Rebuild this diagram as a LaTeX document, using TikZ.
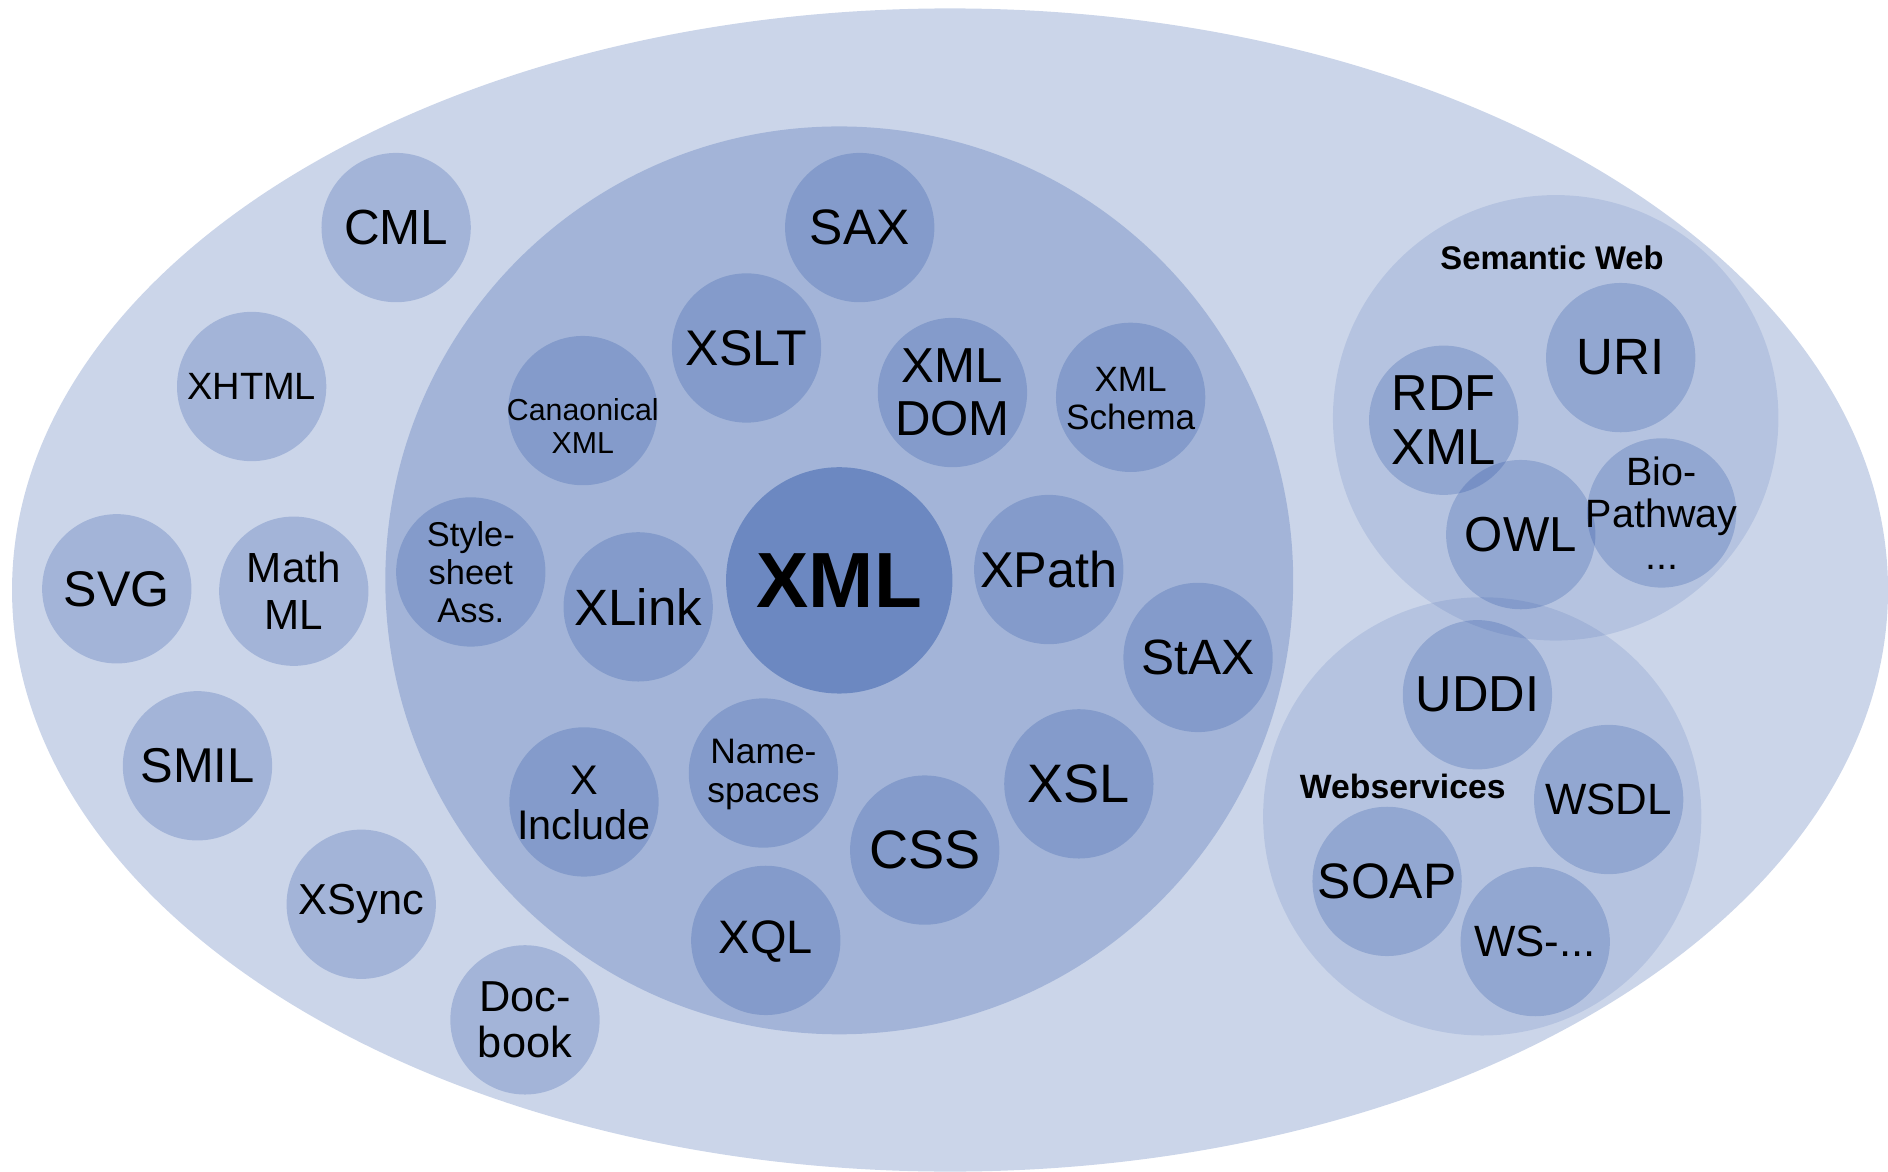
\documentclass[tikz,border=0pt]{standalone}
\usepackage{fontspec}
\setmainfont{Liberation Sans}
\definecolor{base}{RGB}{29,72,159}
\tikzset{
  layer/.style={fill=base, fill opacity=0.23},
  core/.style={fill=base, fill opacity=0.41},
  grp/.style={fill=base, fill opacity=0.12},
  txt/.style={align=center, inner sep=0pt, text=black, text opacity=1},
}
\newcommand{\fs}[2]{\fontsize{#1}{#2}\selectfont}
\begin{document}
\begin{tikzpicture}[x=0.5pt, y=-0.5pt]
\useasboundingbox (0,0) rectangle (1568,973);
% outer ellipse and inner circle
\fill[layer] (789,490) ellipse [x radius=389.5pt, y radius=241.5pt];
\fill[layer] (697,482) circle (188.5pt);
% group circles
\fill[grp] (1292,347) circle (92.5pt);
\fill[grp] (1231,678) circle (91pt);

% bubbles
\foreach \p in {(329,189),(209,321),(97,489),(244,491),(164,636),(300,751),(436,847),
  (714,189),(620,289),(484,341),(791,326),(939,330),(391,475),(530,504),(871,473),
  (995,546),(896,651),(485,666),(634,642),(768,706),(636,781),
  (1346,297),(1199,349),(1263,444),(1380,426),
  (1227,577),(1336,664),(1152,732),(1275,782)}
  \fill[layer] \p circle (31pt);
\fill[core] (697,482) circle (47pt);

% labels outer
\node[txt, font=\fs{20.5}{24}] (cml) at (329,189) {CML};
\node[txt, font=\fs{15.8}{19}] (xhtml) at (209,321) {XHTML};
\node[txt, font=\fs{20.8}{24}] (svg) at (97,489) {SVG};
\node[txt, font=\fs{17.5}{19.5}] (mathml) at (244,491) {Math\\ML};
\node[txt, font=\fs{20.3}{24}] (smil) at (164,636) {SMIL};
\node[txt, font=\fs{18}{20}] (xsync) at (300,751) {XSync};
\node[txt, font=\fs{18}{19}] (docbook) at (436,847) {Doc-\\book};

% labels inner
\node[txt, font=\bfseries\fs{32.5}{36}] (xml) at (697,482) {XML};
\node[txt, font=\fs{20.7}{24}] (sax) at (714,189) {SAX};
\node[txt, font=\fs{20.8}{24}] (xslt) at (620,289) {XSLT};
\node[txt, font=\fs{12.6}{13.5}] (canon) at (484,354) {Canaonical\\XML};
\node[txt, font=\fs{20.4}{22}] (dom) at (791,326) {XML\\DOM};
\node[txt, font=\fs{14.6}{16}] (schema) at (939,331) {XML\\Schema};
\node[txt, font=\fs{14.3}{15.7}] (style) at (391,475) {Style-\\sheet\\Ass.};
\node[txt, font=\fs{21.2}{24}] (xlink) at (530,504) {XLink};
\node[txt, font=\fs{20.9}{24}] (xpath) at (871,473) {XPath};
\node[txt, font=\fs{20.6}{24}] (stax) at (995,546) {StAX};
\node[txt, font=\fs{22.5}{24}] (xsl) at (896,651) {XSL};
\node[txt, font=\fs{17.2}{18.5}] (xinc) at (485,667) {X\\Include};
\node[txt, font=\fs{14.7}{16}] (ns) at (634,643) {Name-\\spaces};
\node[txt, font=\fs{22.5}{24}] (css) at (768,706) {CSS};
\node[txt, font=\fs{19.5}{24}] (xql) at (636,782) {XQL};

% semantic web
\node[txt, font=\bfseries\fs{13.6}{16}] (semweb) at (1289,214) {Semantic Web};
\node[txt, font=\fs{21.2}{24}] (uri) at (1346,297) {URI};
\node[txt, font=\fs{21}{22.5}] (rdf) at (1199,349) {RDF\\XML};
\node[txt, font=\fs{20.4}{24}] (owl) at (1263,444) {OWL};
\node[txt, font=\fs{16.4}{17.5}] (bio) at (1380,426) {Bio-\\Pathway\\...};

% webservices
\node[txt, font=\bfseries\fs{14}{16}] (websvc) at (1165,653) {Webservices};
\node[txt, font=\fs{21}{24}] (uddi) at (1227,577) {UDDI};
\node[txt, font=\fs{18.2}{22}] (wsdl) at (1336,664) {WSDL};
\node[txt, font=\fs{20.7}{24}] (soap) at (1152,732) {SOAP};
\node[txt, font=\fs{18.2}{22}] (ws) at (1275,782) {WS-...};
\end{tikzpicture}
\end{document}
